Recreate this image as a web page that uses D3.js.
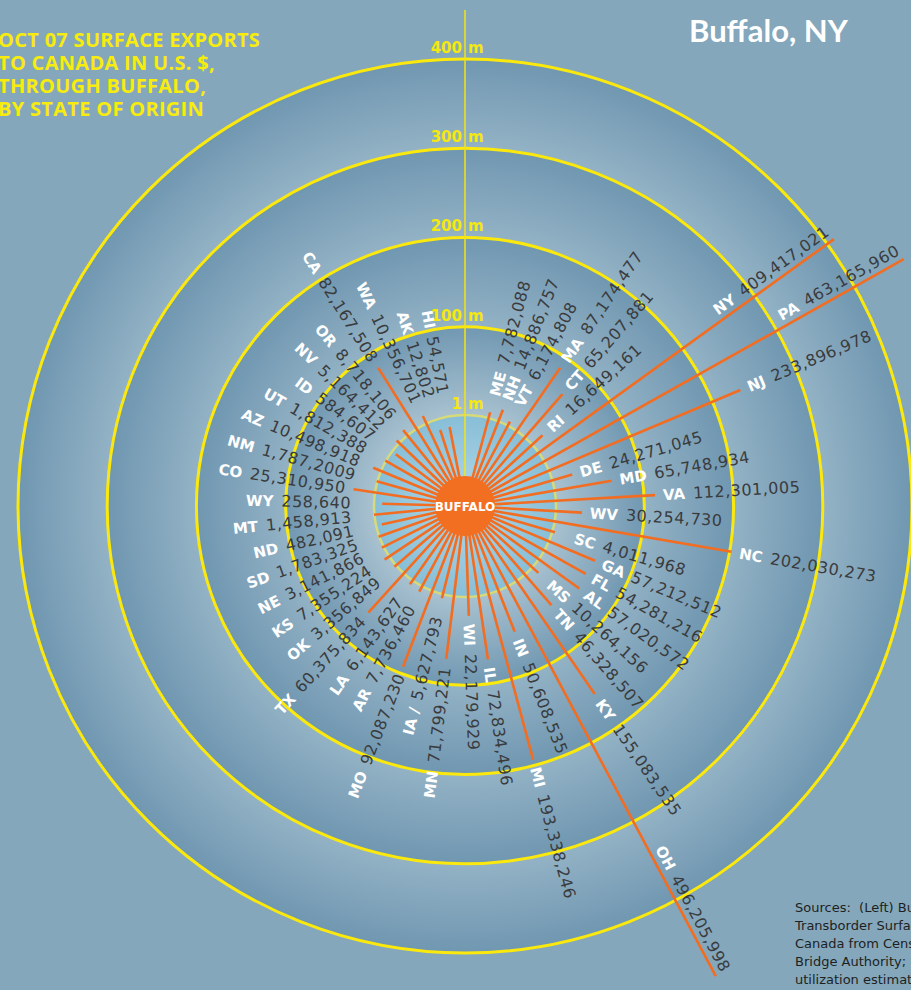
<!DOCTYPE html>
<html>
<head>
<meta charset="utf-8">
<script src="https://cdn.jsdelivr.net/npm/d3@7"></script>
<style>
  html, body { margin: 0; padding: 0; background: #84a7bc; overflow: hidden; }
  svg { display: block; }
</style>
</head>
<body>
<div id="chart"></div>
<script>
let width = 911
let height = 990
let cx = 465
let cy = 506

// states east of the axis (clockwise from the top) and west of it
let eastStates = ["ME", "NH", "VT", "MA", "CT", "RI", "NY", "PA", "NJ", "DE", "MD", "VA", "WV",
  "NC", "SC", "GA", "FL", "AL", "MS", "TN", "KY", "OH", "IN", "MI", "IL", "WI"]
let westStates = ["MN", "IA", "MO", "AR", "LA", "TX", "OK", "KS", "NE", "SD", "ND", "MT", "WY",
  "CO", "NM", "AZ", "UT", "ID", "NV", "OR", "CA", "WA", "AK", "HI"]

// Oct 07 surface exports, US $, same order as above
let exportValues = [7782088, 14886757, 6174808, 87174477, 65207881, 16649161, 409417021, 463165960,
  233896978, 24271045, 65748934, 112301005, 30254730, 202030273, 4011968, 57212512, 54281216,
  57020572, 10264156, 46328507, 155083535, 496205998, 50608535, 193338246, 72834496, 22179929,
  71799221, 5627793, 92087230, 7736460, 6143627, 60375834, 3356849, 7355224, 3141866, 1783325,
  482091, 1458913, 258640, 25310950, 1787200, 10498918, 1812388, 584607, 5164412, 8718106,
  82167508, 10356701, 12802, 54571]

// the numbers as printed on the chart
let exportText = ["7,782,088", "14,886,757", "6,174,808", "87,174,477", "65,207,881", "16,649,161",
  "409,417,021", "463,165,960", "233,896,978", "24,271,045", "65,748,934", "112,301,005",
  "30,254,730", "202,030,273", "4,011,968", "57,212,512", "54,281,216", "57,020,572", "10,264,156",
  "46,328,507", "155,083,535", "496,205,998", "50,608,535", "193,338,246", "72,834,496",
  "22,179,929", "71,799,221", "5,627,793", "92,087,230", "7,736,460", "6,143,627", "60,375,834",
  "3,356,849", "7,355,224", "3,141,866", "1,783,325", "482,091", "1,458,913", "258,640",
  "25,310,950", "1,787,2009", "10,498,918", "1,812,388", "584,607", "5,164,412", "8,718,106",
  "82,167,508", "10,356,701", "12,802", "54,571"]

let ringValues = [1e6, 100e6, 200e6, 300e6, 400e6]
let ringLabels = ["1", "100", "200", "300", "400"]

let titleLines = ["OCT 07 SURFACE EXPORTS", "TO CANADA IN U.S. $,", "THROUGH BUFFALO,", "BY STATE OF ORIGIN"]
let sourceLines = [
  "Sources:  (Left) Bureau of Transportation Statistics,",
  "Transborder Surface Freight Data; (Right) Exports to",
  "Canada from Census trade data; Buffalo and Fort Erie Public",
  "Bridge Authority; Niagara Frontier crossing",
  "utilization estimates"
]

let states = eastStates.concat(westStates)

let r = d3.scaleLinear()
  .domain([0, 1e6, 400e6])
  .range([80, 91, 447])

let angleEast = d3.scalePoint().domain(eastStates).range([15, 178])
let angleWest = d3.scalePoint().domain(westStates).range([187, 349])

let data = states.map((s, i) => ({
  state: s,
  value: exportValues[i],
  text: exportText[i],
  angle: i < eastStates.length ? angleEast(s) : angleWest(s)
}))

function pt(angle, radius) {
  let a = angle * Math.PI / 180
  return [radius * Math.sin(a), -radius * Math.cos(a)]
}

let svg = d3.select('#chart')
  .append('svg')
  .attr('width', width)
  .attr('height', height)

svg.append('rect')
  .attr('width', width)
  .attr('height', height)
  .attr('fill', '#84a7bc')

let defs = svg.append('defs')

let ringR = ringValues.map(v => r(v))
let bands = [[0, ringR[1]], [ringR[1], ringR[2]], [ringR[2], ringR[3]], [ringR[3], ringR[4]]]

// gradients are used inside the translated group, so centre them on 0,0
bands.forEach((b, i) => {
  let g = defs.append('radialGradient')
    .attr('id', 'band' + i)
    .attr('gradientUnits', 'userSpaceOnUse')
    .attr('cx', 0).attr('cy', 0).attr('r', b[1])
  if (i == 0) {
    g.append('stop').attr('offset', 0).attr('stop-color', '#c8d8e1')
    g.append('stop').attr('offset', 0.5).attr('stop-color', '#a9c2d0')
    g.append('stop').attr('offset', 1).attr('stop-color', '#7198b2')
  } else {
    g.append('stop').attr('offset', b[0] / b[1]).attr('stop-color', '#93b2c5')
    g.append('stop').attr('offset', 1).attr('stop-color', '#7097b1')
  }
})

let inner = defs.append('radialGradient')
  .attr('id', 'innerDisc')
  .attr('gradientUnits', 'userSpaceOnUse')
  .attr('cx', 0).attr('cy', 0).attr('r', ringR[0])
inner.append('stop').attr('offset', 0).attr('stop-color', '#b4d9e9')
inner.append('stop').attr('offset', 1).attr('stop-color', '#87bed7')

let chart = svg.append('g')
  .attr('transform', `translate(${cx},${cy})`)

// band fills, outermost first
chart.selectAll('circle.band')
  .data(bands.slice().reverse())
  .join('circle')
  .attr('class', 'band')
  .attr('r', d => d[1])
  .attr('fill', (d, i) => `url(#band${bands.length - 1 - i})`)

chart.append('circle')
  .attr('r', ringR[0])
  .attr('fill', 'url(#innerDisc)')
  .attr('stroke', '#d6da78')
  .attr('stroke-width', 2.5)

chart.selectAll('circle.ring')
  .data(ringR.slice(1))
  .join('circle')
  .attr('class', 'ring')
  .attr('r', d => d)
  .attr('fill', 'none')
  .attr('stroke', '#fbe80c')
  .attr('stroke-width', 3)

// vertical axis
chart.append('line')
  .attr('x1', 0).attr('x2', 0)
  .attr('y1', 10 - cy).attr('y2', 0)
  .attr('stroke', '#f3e412')
  .attr('stroke-width', 1.5)

let ringText = chart.selectAll('g.ringlabel')
  .data(ringValues)
  .join('g')
  .attr('class', 'ringlabel')
  .attr('transform', d => `translate(0,${-r(d) - 6})`)
  .style('font-family', 'DejaVu Sans, sans-serif')
  .style('font-weight', 'bold')
  .style('font-size', '15px')
  .attr('fill', '#f5e80d')

ringText.append('text')
  .attr('x', -3)
  .attr('text-anchor', 'end')
  .text((d, i) => ringLabels[i])

ringText.append('text')
  .attr('x', 3)
  .text('m')

// spokes
chart.selectAll('line.spoke')
  .data(data)
  .join('line')
  .attr('class', 'spoke')
  .attr('x1', 0).attr('y1', 0)
  .attr('x2', d => pt(d.angle, r(d.value))[0])
  .attr('y2', d => pt(d.angle, r(d.value))[1])
  .attr('stroke', '#f26d21')
  .attr('stroke-width', 2.6)

chart.append('circle')
  .attr('r', 30)
  .attr('fill', '#f26f21')

chart.append('text')
  .attr('y', 4.5)
  .attr('text-anchor', 'middle')
  .style('font-family', 'DejaVu Sans, sans-serif')
  .style('font-weight', 'bold')
  .style('font-size', '12px')
  .attr('fill', '#fff')
  .text('BUFFALO')

// state labels: east side reads outward, west side reads inward
chart.selectAll('text.state')
  .data(data)
  .join('text')
  .attr('class', 'state')
  .style('font-family', 'DejaVu Sans, sans-serif')
  .each(function(d) {
    let outward = d.angle <= 180
    let big = d.value > 300e6
    let rl = big ? r(d.value) : Math.max(r(d.value) + 8, 114)
    let p = pt(d.angle, rl)
    let rot = outward ? d.angle - 90 : d.angle + 90
    let t = d3.select(this)
      .attr('transform', `translate(${p[0]},${p[1]}) rotate(${rot})`)
      .attr('text-anchor', outward && !big ? 'start' : 'end')
      .attr('dy', big ? -6 : 5.5)
    t.append('tspan')
      .attr('fill', '#ffffff')
      .style('font-weight', 'bold')
      .style('font-size', '15px')
      .text(d.state == 'IA' ? 'IA /' : d.state)
    t.append('tspan')
      .attr('dx', 8)
      .attr('fill', '#3a3b3d')
      .style('font-size', '16px')
      .style('letter-spacing', '0.5px')
      .text(d.text)
  })

// titles
svg.append('g')
  .selectAll('text')
  .data(titleLines)
  .join('text')
  .attr('x', -2)
  .attr('y', (d, i) => 47 + i * 23)
  .attr('fill', '#f8ec0c')
  .style('font-family', 'Open Sans, sans-serif')
  .style('font-weight', 'bold')
  .style('font-size', '20px')
  .style('letter-spacing', '0.3px')
  .text(d => d)

svg.append('text')
  .attr('x', 689)
  .attr('y', 42)
  .attr('fill', '#ffffff')
  .style('font-family', 'Lato, sans-serif')
  .style('font-weight', 'bold')
  .style('font-size', '31px')
  .text('Buffalo, NY')

svg.append('g')
  .selectAll('text')
  .data(sourceLines)
  .join('text')
  .attr('x', 795)
  .attr('y', (d, i) => 912 + i * 18.1)
  .attr('fill', '#1e1f21')
  .style('font-family', 'DejaVu Sans, sans-serif')
  .style('font-size', '13px')
  .style('white-space', 'pre')
  .text(d => d)
</script>
</body>
</html>
